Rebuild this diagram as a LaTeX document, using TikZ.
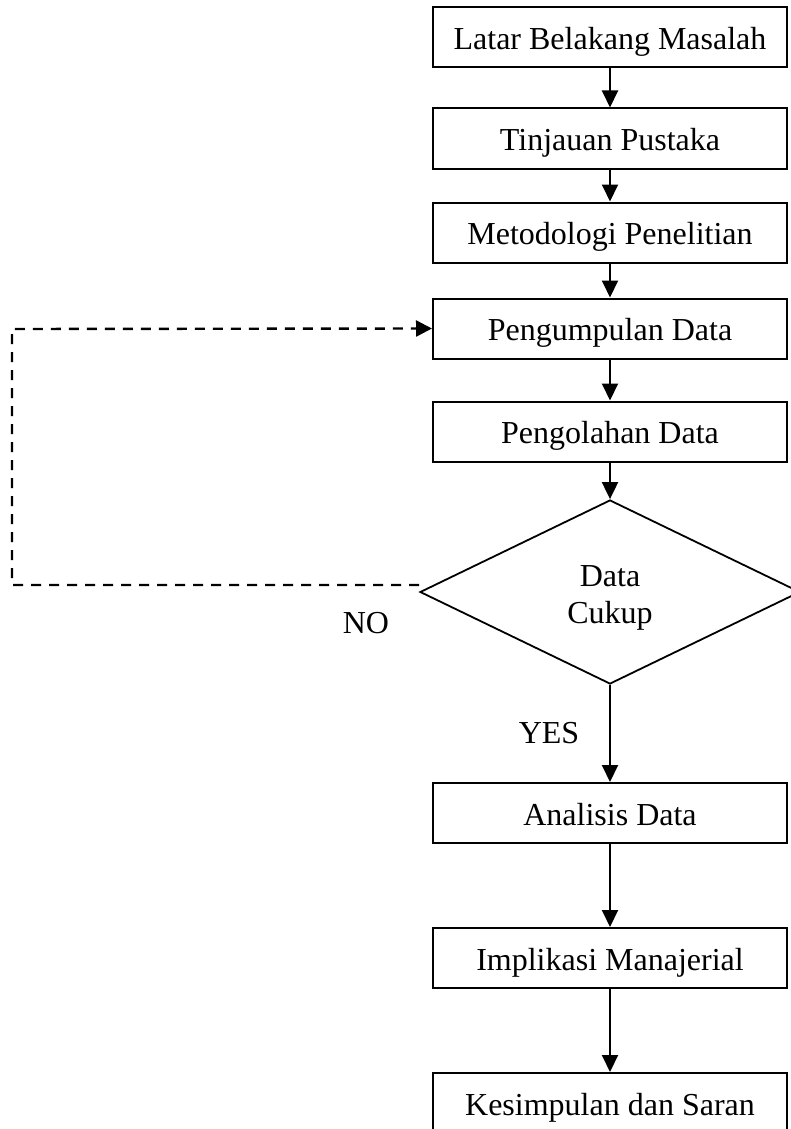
\documentclass[tikz,border=0pt]{standalone}
\usepackage{fontspec}
\setmainfont{Liberation Serif}
\usetikzlibrary{arrows.meta,shapes.geometric}
\begin{document}
\begin{tikzpicture}[x=1pt,y=-1pt,
  txt/.style={font=\fontsize{32}{37}\selectfont},
  box/.style={txt,draw,line width=2pt,minimum width=354pt,minimum height=60pt,inner sep=0pt,text height=26pt,text depth=2pt},
  dec/.style={draw,diamond,line width=1.8pt,minimum width=380pt,minimum height=184pt,inner sep=0pt},
  arr/.style={line width=2pt,-{Triangle[length=17pt,width=16pt]}},
  dline/.style={line width=2.4pt,dash pattern=on 10pt off 8pt,-{Triangle[length=16pt,width=16pt]}}]
\useasboundingbox (0,0) rectangle (790,1129);
\node[box] (b1) at (610,37.5) {Latar Belakang Masalah};
\node[box] (b2) at (610,138.5) {Tinjauan Pustaka};
\node[box] (b3) at (610,232.5) {Metodologi Penelitian};
\node[box] (b4) at (610,328.5) {Pengumpulan Data};
\node[box] (b5) at (610,431.5) {Pengolahan Data};
\node[dec] (d) at (610,592) {};
\node[txt,anchor=base] (dt1) at (610,586) {Data};
\node[txt,anchor=base] (dt2) at (610,623) {Cukup};
\node[box] (b6) at (610,813) {Analisis Data};
\node[box] (b7) at (610,958) {Implikasi Manajerial};
\node[box] (b8) at (610,1103) {Kesimpulan dan Saran};
\node[txt,anchor=base] (no) at (366,633) {NO};
\node[txt,anchor=base] (yes) at (549,743) {YES};
\coordinate (lc) at (12,329);
\draw[arr] (b1.south) -- (b2.north);
\draw[arr] (b2.south) -- (b3.north);
\draw[arr] (b3.south) -- (b4.north);
\draw[arr] (b4.south) -- (b5.north);
\draw[arr] (b5.south) -- (d.north);
\draw[arr] (d.south) -- (b6.north);
\draw[arr] (b6.south) -- (b7.north);
\draw[arr] (b7.south) -- (b8.north);
\draw[dline] ([yshift=7pt]d.west) -| (lc) -- (b4.west);
\end{tikzpicture}
\end{document}
